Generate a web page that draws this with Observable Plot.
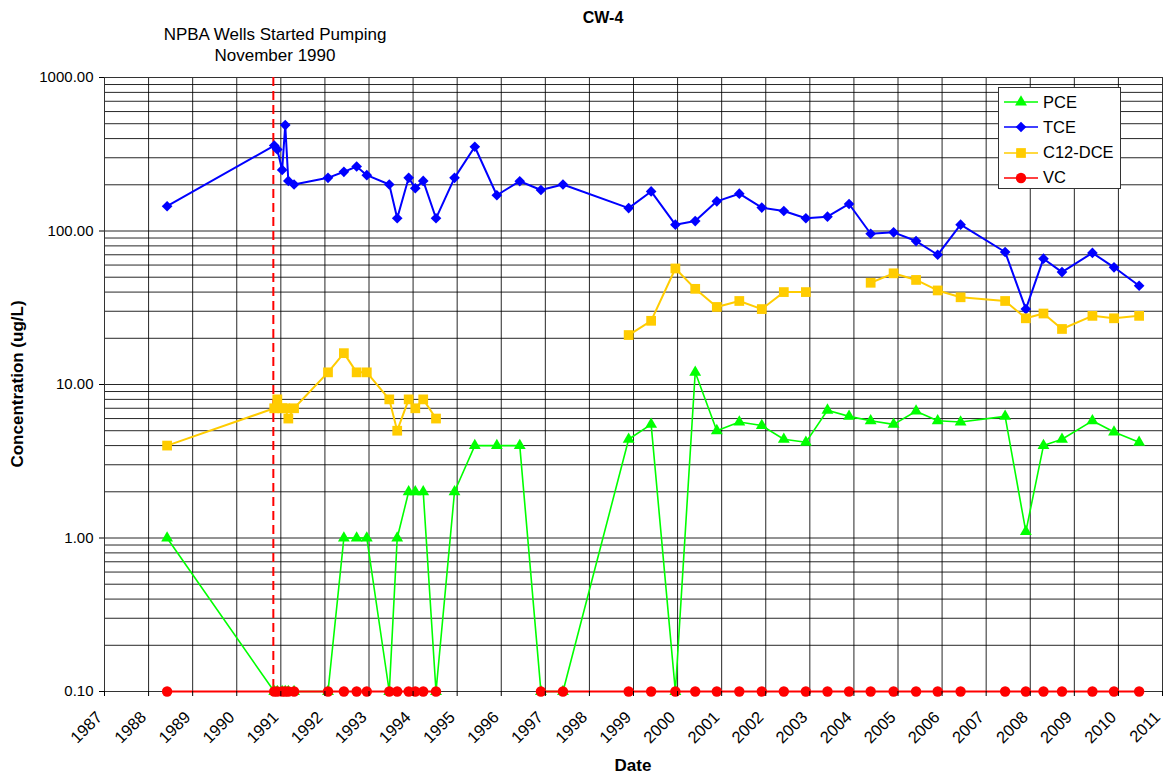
<!DOCTYPE html>
<html><head><meta charset="utf-8">
<script src="https://cdn.jsdelivr.net/npm/d3@7"></script>
<script src="https://cdn.jsdelivr.net/npm/@observablehq/plot@0.6"></script>
<style>
body{margin:0;background:#fff;font-family:"Liberation Sans",Arial,sans-serif;}
#wrap{position:relative;width:1165px;height:778px;}
#wrap svg.chart{position:absolute;left:0;top:0;}
.t{position:absolute;white-space:nowrap;color:#000;font-size:17px;line-height:1;}
.b{font-weight:bold;}
#legend{position:absolute;left:998px;top:87px;width:123px;height:102px;background:#fff;border:1px solid #333;box-sizing:border-box;}
.le{position:absolute;left:5px;height:20px;font-size:16.5px;display:flex;align-items:center;}
.le span{margin-left:5px;}
</style></head><body><div id="wrap"></div>
<script>
// Sampling dates (decimal years)
const dates = [
  1988.42,
  1990.85, 1990.92, 1991.03, 1991.10, 1991.17, 1991.30,
  1992.07, 1992.43, 1992.72, 1992.95,
  1993.46, 1993.64, 1993.90, 1994.05, 1994.23, 1994.52,
  1994.94, 1995.40, 1995.90, 1996.42, 1996.90, 1997.40,
  1998.89, 1999.40, 1999.95, 2000.40, 2000.89, 2001.40, 2001.91, 2002.41,
  2002.91, 2003.40, 2003.89, 2004.38, 2004.90, 2005.41, 2005.90, 2006.42,
  2007.43, 2007.90, 2008.30, 2008.72, 2009.41, 2009.90, 2010.47
];
const pce = [
  1.0,
  0.1, 0.1, 0.1, 0.1, 0.1, 0.1,
  0.1, 1.0, 1.0, 1.0,
  0.1, 1.0, 2.0, 2.0, 2.0, 0.1,
  2.0, 4.0, 4.0, 4.0, 0.1, 0.1,
  4.4, 5.5, 0.1, 12, 5.0, 5.7, 5.4, 4.4,
  4.2, 6.8, 6.2, 5.8, 5.5, 6.7, 5.8, 5.7,
  6.2, 1.1, 4.0, 4.4, 5.8, 4.9, 4.2
];
const tce = [
  145,
  360, 340, 250, 490, 212, 201,
  222, 243, 263, 231,
  201, 121, 222, 190, 212, 121,
  222, 354, 171, 211, 185, 201,
  141, 181, 110, 116, 156, 175, 142, 135,
  121, 124, 150, 96, 98, 86, 70, 110,
  73, 31, 66, 54, 72, 58, 44
];
const dce = [
  4.0,
  7, 8, 7, 7, 6, 7,
  12, 16, 12, 12,
  8, 5, 8, 7, 8, 6,
  null, null, null, null, null, null,
  21, 26, 57, 42, 32, 35, 31, 40,
  40, null, null, 46, 53, 48, 41, 37,
  35, 27, 29, 23, 28, 27, 28
];
const vc = [
  0.1,
  0.1, 0.1, 0.1, 0.1, 0.1, 0.1,
  0.1, 0.1, 0.1, 0.1,
  0.1, 0.1, 0.1, 0.1, 0.1, 0.1,
  null, null, null, null, 0.1, 0.1,
  0.1, 0.1, 0.1, 0.1, 0.1, 0.1, 0.1, 0.1,
  0.1, 0.1, 0.1, 0.1, 0.1, 0.1, 0.1, 0.1,
  0.1, 0.1, 0.1, 0.1, 0.1, 0.1, 0.1
];
const seriesNames = ["PCE", "TCE", "C12-DCE", "VC"];
const seriesColors = ["#00FF00", "#0000FF", "#FFCC00", "#FF0000"];
const seriesSymbols = ["triangle", "diamond2", "square", "circle"];
const yearTicks = d3.range(1987, 2012);
const yTicks = [0.1, 1, 10, 100, 1000];
const pumpStart = 1990.83;

const values = [pce, tce, dce, vc];
const rows = dates.map((d, i) => {
  const r = {date: d};
  seriesNames.forEach((n, k) => r[n] = values[k][i]);
  return r;
});
const yMinor = [];
for (let e = -1; e <= 2; e++) for (let m = 1; m <= 9; m++) yMinor.push(+(m * Math.pow(10, e)).toPrecision(3));
yMinor.push(1000);

const symR = {triangle: 4.4, diamond2: 4.8, square: 5.5, circle: 5.2};
const lineW = [1.6, 2, 2, 2];

const marks = [
  Plot.ruleY(yMinor, {stroke: "#000", strokeWidth: 1, strokeOpacity: 0.85}),
  Plot.ruleX(yearTicks, {stroke: "#000", strokeWidth: 1, strokeOpacity: 0.85}),
  Plot.frame({stroke: "#333"}),
  Plot.ruleX([pumpStart], {stroke: "#FF0000", strokeWidth: 2, strokeDasharray: "9,5"})
];
seriesNames.forEach((n, k) => {
  marks.push(Plot.line(rows, {x: "date", y: n, stroke: seriesColors[k], strokeWidth: lineW[k]}));
  marks.push(Plot.dot(rows, {x: "date", y: n, symbol: () => seriesSymbols[k], fill: seriesColors[k], stroke: "none", r: symR[seriesSymbols[k]]}));
});
marks.push(Plot.axisX({ticks: yearTicks, tickSize: 5, text: null, label: null}));
marks.push(Plot.axisX({ticks: yearTicks, tickFormat: d => String(d), tickRotate: -45, tickSize: 0, tickPadding: 23, dx: -5, label: null, fontSize: 16.5}));
marks.push(Plot.axisY({ticks: yTicks, tickFormat: d => d.toFixed(2), tickSize: 5, tickPadding: 6, label: null, fontSize: 15}));

const chart = Plot.plot({
  width: 1165, height: 778,
  marginTop: 77, marginLeft: 104, marginRight: 3, marginBottom: 87,
  x: {domain: [1987, 2011]},
  y: {type: "log", domain: [0.1, 1000]},
  style: {fontFamily: "'Liberation Sans', Arial, sans-serif", fontSize: "15px", background: "white", overflow: "visible", color: "#000"},
  marks
});
chart.classList.add("chart");
const wrap = document.getElementById("wrap");
wrap.appendChild(chart);

function addText(txt, x, y, cls, extra, size) {
  const d = document.createElement("div");
  d.className = "t " + (cls || "");
  d.textContent = txt;
  d.style.left = x + "px"; d.style.top = y + "px";
  if (size) d.style.fontSize = size + "px";
  d.style.transform = extra || "translate(-50%,-50%)";
  wrap.appendChild(d);
}
addText("CW-4", 603, 18, "b", null, 16);
addText("NPBA Wells Started Pumping", 275, 34);
addText("November 1990", 275, 55);
addText("Date", 633, 765, "b");
addText("Concentration (ug/L)", 17, 384, "b", "translate(-50%,-50%) rotate(-90deg)");

const legend = document.createElement("div");
legend.id = "legend";
seriesNames.forEach((n, k) => {
  const e = document.createElement("div");
  e.className = "le";
  e.style.top = (4 + k * 25.3) + "px";
  const s = d3.create("svg").attr("width", 34).attr("height", 14);
  s.append("line").attr("x1", 0).attr("x2", 34).attr("y1", 7).attr("y2", 7).attr("stroke", seriesColors[k]).attr("stroke-width", 1.6);
  const sym = {triangle: d3.symbolTriangle, diamond2: d3.symbolDiamond2, square: d3.symbolSquare, circle: d3.symbolCircle}[seriesSymbols[k]];
  const rr = symR[seriesSymbols[k]];
  s.append("path").attr("d", d3.symbol(sym, rr * rr * Math.PI)()).attr("transform", "translate(17,7)").attr("fill", seriesColors[k]);
  e.appendChild(s.node());
  const sp = document.createElement("span");
  sp.textContent = n;
  e.appendChild(sp);
  legend.appendChild(e);
});
wrap.appendChild(legend);
</script></body></html>
